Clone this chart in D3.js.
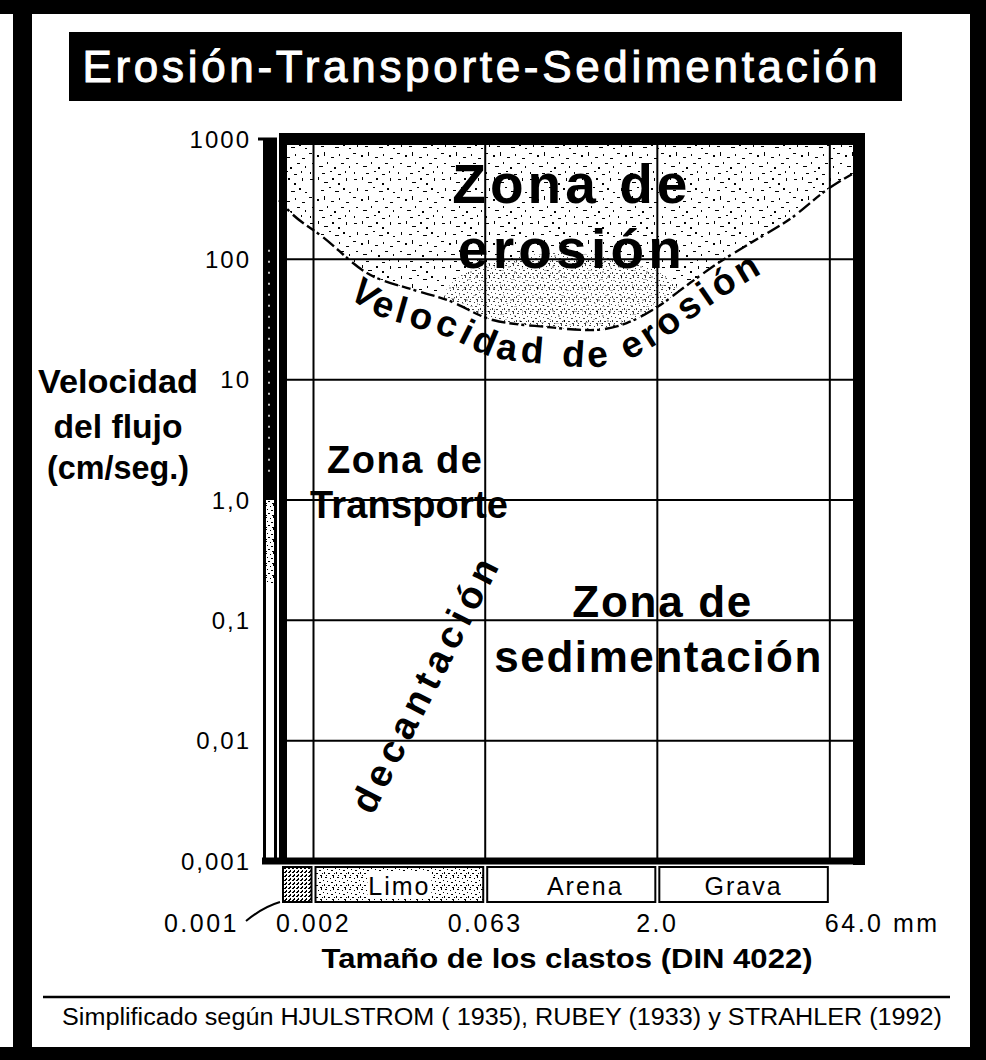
<!DOCTYPE html>
<html>
<head>
<meta charset="utf-8">
<script src="https://cdn.jsdelivr.net/npm/d3@7"></script>
<style>
  body { margin: 0; background: #fff; }
  svg { display: block; }
  text { font-family: "Liberation Sans", Arial, sans-serif; }
</style>
</head>
<body>
<svg id="chart" width="986" height="1060"></svg>
<script>
// ---- data -------------------------------------------------------------
// grain-size class boundaries (mm, DIN 4022)
const sizeTicks = [0.001, 0.002, 0.063, 2.0, 64.0];
const sizeTickLabels = ["0.001", "0.002", "0.063", "2.0", "64.0 mm"];
const sizeMax = 115;

// flow velocity decades (cm/s)
const velTicks = [1000, 100, 10, 1, 0.1, 0.01, 0.001];
const velTickLabels = ["1000", "100", "10", "1,0", "0,1", "0,01", "0,001"];

// grain classes shown under the plot
const classNames = ["", "Limo", "Arena", "Grava"];
const classLo = [0.001, 0.002, 0.063, 2.0];
const classHi = [0.002, 0.063, 2.0, 64.0];

// erosion velocity curve (grain size mm, velocity cm/s)
const erosionSize = [0.001, 0.00125, 0.00242, 0.00585, 0.0147, 0.0292, 0.0735, 0.218, 0.52, 1.08, 1.98, 3.85, 7.0, 12.1, 30.4, 60, 115];
const erosionVel  = [310, 247, 153, 77, 56, 46, 31.3, 27.4, 25.8, 29.5, 40, 63.5, 95, 131, 225, 377, 551];

// zone labels anchored in data units (size mm, velocity cm/s)
const zoneText = ["Zona de", "erosión", "Zona de", "Transporte", "Zona de", "sedimentación"];
const zoneSize = [0.345, 0.345, 0.01244, 0.0136, 2.19, 2.02];
const zoneVel  = [294, 84.7, 1.675, 0.707, 0.1064, 0.0371];

const settlingText = "decantación";
const settlingAnchor = [0.0191, 0.0284];

const curveText = "Velocidad de erosión";
const title = "Erosión-Transporte-Sedimentación";
const yTitle = ["Velocidad", "del flujo", "(cm/seg.)"];
const xTitle = "Tamaño de los clastos (DIN 4022)";
const source = "Simplificado según HJULSTROM ( 1935),  RUBEY (1933) y STRAHLER (1992)";

// ---- setup ------------------------------------------------------------
const svg = d3.select("#chart");
const defs = svg.append("defs");

const x = d3.scaleLog().domain([0.001, sizeMax]).range([279, 859]);
const y = d3.scaleLog().domain([0.001, 1000]).range([861, 139]);

function fit(t, w, squeeze) {
  t.attr("textLength", w).attr("lengthAdjust", squeeze ? "spacingAndGlyphs" : "spacing");
  return t;
}

// stipple textures
function addPattern(id, size, marks) {
  const p = defs.append("pattern").attr("id", id)
    .attr("patternUnits", "userSpaceOnUse").attr("width", size).attr("height", size);
  p.append("rect").attr("width", size).attr("height", size).attr("fill", "#fff");
  p.selectAll("rect.m").data(marks).join("rect").attr("class", "m")
    .attr("x", d => d[0]).attr("y", d => d[1])
    .attr("width", d => d[2]).attr("height", d => d[3]).attr("fill", "#000");
}
addPattern("stipple", 44, [
  [2,3,3,1],[10,1,1,3],[16,6,4,1],[24,2,2,2],[30,7,2,2],[38,2,1,3],
  [5,12,1,3],[13,14,3,1],[21,11,2,1],[27,15,4,1],[35,12,2,2],[41,16,2,1],
  [1,21,3,1],[9,23,2,2],[16,20,1,4],[23,25,3,1],[31,22,1,2],[38,26,3,1],
  [4,31,2,1],[11,34,4,1],[19,30,1,2],[26,35,2,2],[33,31,3,1],[41,34,1,2],
  [2,40,1,2],[14,41,3,1],[22,39,2,1],[30,42,3,1],[37,39,1,2]
]);
addPattern("stippleDense", 12, [
  [1,1,2,1],[6,2,1,1],[9,0,1,2],[3,5,1,1],[7,6,2,1],[0,8,1,2],
  [4,9,2,1],[10,9,1,1],[2,11,1,1],[8,11,2,1],[11,4,1,1]
]);
addPattern("clay", 4, [[0,0,2,1],[2,2,1,2],[1,3,1,1]]);

// ---- outer frame and title -------------------------------------------
svg.append("rect").attr("x", 0).attr("y", 0).attr("width", 986).attr("height", 14).attr("fill", "#000");
svg.append("rect").attr("x", 13).attr("y", 0).attr("width", 19).attr("height", 1060).attr("fill", "#000");
svg.append("rect").attr("x", 970).attr("y", 0).attr("width", 16).attr("height", 1060).attr("fill", "#000");
svg.append("rect").attr("x", 0).attr("y", 1047).attr("width", 986).attr("height", 13).attr("fill", "#000");

svg.append("rect").attr("x", 69).attr("y", 32).attr("width", 833).attr("height", 69).attr("fill", "#000");
fit(svg.append("text").attr("x", 480).attr("y", 82).attr("text-anchor", "middle")
  .attr("font-size", 44).attr("fill", "#fff").attr("stroke", "#fff").attr("stroke-width", 1)
  .text(title), 795);

// ---- erosion zone ----------------------------------------------------
const erosion = erosionSize.map((s, i) => [s, erosionVel[i]]);
const area = d3.area().x(d => x(d[0])).y0(y(1000)).y1(d => y(d[1])).curve(d3.curveMonotoneX);
const edge = d3.line().x(d => x(d[0])).y(d => y(d[1])).curve(d3.curveMonotoneX);

defs.append("clipPath").attr("id", "erosionClip").append("path").attr("d", area(erosion));
svg.append("path").attr("d", area(erosion)).attr("fill", "url(#stipple)");
// denser shading just above the curve minimum
svg.append("ellipse").attr("clip-path", "url(#erosionClip)")
  .attr("cx", x(0.3)).attr("cy", y(45)).attr("rx", 120).attr("ry", 48)
  .attr("fill", "url(#stippleDense)").attr("opacity", 0.75);
svg.append("path").attr("d", edge(erosion)).attr("fill", "none")
  .attr("stroke", "#000").attr("stroke-width", 2.4).attr("stroke-dasharray", "9 3 3 5 14 4");

// ---- grid --------------------------------------------------------------
svg.append("g").selectAll("line").data(sizeTicks.slice(1)).join("line")
  .attr("x1", d => x(d)).attr("x2", d => x(d)).attr("y1", y(1000)).attr("y2", y(0.001))
  .attr("stroke", "#000").attr("stroke-width", 2);
svg.append("g").selectAll("line").data(velTicks.slice(1, -1)).join("line")
  .attr("x1", x(0.001)).attr("x2", x(sizeMax)).attr("y1", d => y(d)).attr("y2", d => y(d))
  .attr("stroke", "#000").attr("stroke-width", 2);

// ---- velocity bar on the left ------------------------------------------
const barL = x(0.001) - 16, barR = x(0.001) - 2;
svg.append("rect").attr("x", barL).attr("y", y(1000)).attr("width", barR - barL).attr("height", y(1) - y(1000)).attr("fill", "#000");
svg.append("rect").attr("x", barL).attr("y", y(1)).attr("width", barR - barL).attr("height", y(0.2) - y(1)).attr("fill", "url(#stippleDense)");
svg.append("line").attr("x1", barL + 6).attr("x2", barL + 6).attr("y1", y(120)).attr("y2", y(1.5))
  .attr("stroke", "#fff").attr("stroke-width", 1.5).attr("stroke-dasharray", "2 9");
svg.append("rect").attr("x", barL + 1.5).attr("y", y(1000)).attr("width", barR - barL - 3).attr("height", y(0.001) - y(1000))
  .attr("fill", "none").attr("stroke", "#000").attr("stroke-width", 3);

// ---- plot frame --------------------------------------------------------
const fx0 = x(0.001) + 4, fx1 = x(sizeMax), fy0 = y(1000), fy1 = y(0.001);
svg.append("line").attr("x1", fx0 - 4).attr("x2", fx1 + 6).attr("y1", fy0).attr("y2", fy0).attr("stroke", "#000").attr("stroke-width", 12);
svg.append("line").attr("x1", fx1).attr("x2", fx1).attr("y1", fy0).attr("y2", fy1 + 4).attr("stroke", "#000").attr("stroke-width", 12);
svg.append("line").attr("x1", fx0 - 21).attr("x2", fx1 + 6).attr("y1", fy1).attr("y2", fy1).attr("stroke", "#000").attr("stroke-width", 7);
svg.append("line").attr("x1", fx0).attr("x2", fx0).attr("y1", fy0).attr("y2", fy1).attr("stroke", "#000").attr("stroke-width", 8);
// tick at the top of the scale
svg.append("line").attr("x1", barL - 5).attr("x2", barL).attr("y1", y(1000)).attr("y2", y(1000)).attr("stroke", "#000").attr("stroke-width", 3);

// ---- y tick labels and title -------------------------------------------
svg.append("g").selectAll("text").data(velTicks).join("text")
  .attr("x", barL - 12).attr("y", d => y(d)).attr("dy", "0.36em")
  .attr("text-anchor", "end").attr("font-size", 24).attr("letter-spacing", 2)
  .text((d, i) => velTickLabels[i]);

const yTitleLines = [393, 438, 479];
yTitle.forEach((t, i) => {
  fit(svg.append("text").attr("x", 118).attr("y", yTitleLines[i]).attr("text-anchor", "middle")
    .attr("font-size", 34).attr("font-weight", "bold").text(t), [160, 129, 142][i], true);
});

// ---- grain classes strip ----------------------------------------------
const strip = svg.append("g");
classNames.forEach((n, i) => {
  const x0 = x(classLo[i]) + (i === 0 ? 4 : 2), x1 = x(classHi[i]) - 2;
  strip.append("rect").attr("x", x0).attr("y", 867).attr("width", x1 - x0).attr("height", 35)
    .attr("fill", i === 0 ? "url(#clay)" : (i === 1 ? "url(#stippleDense)" : "#fff"))
    .attr("stroke", "#000").attr("stroke-width", 2);
  if (n) {
    const cx = Math.sqrt(classLo[i] * classHi[i]);
    if (i === 1) strip.append("rect").attr("x", x(cx) - 32).attr("y", 872).attr("width", 64).attr("height", 26).attr("fill", "#fff");
    strip.append("text").attr("x", x(cx) + (i === 2 ? 14 : 0)).attr("y", 895).attr("text-anchor", "middle")
      .attr("font-size", 25).attr("letter-spacing", 2).text(n);
  }
});

// ---- x tick labels and title ------------------------------------------
svg.append("g").selectAll("text").data(sizeTicks).join("text")
  .attr("x", (d, i) => i === 0 ? x(d) - 40 : (i === 4 ? x(d) - 5 : x(d)))
  .attr("y", 932)
  .attr("text-anchor", (d, i) => i === 0 ? "end" : (i === 4 ? "start" : "middle"))
  .attr("font-size", 25).attr("letter-spacing", 2.5)
  .text((d, i) => sizeTickLabels[i]);
svg.append("path")
  .attr("d", `M${x(0.001) - 33},921 Q${x(0.001) - 16},907 ${x(0.001) + 1},902`)
  .attr("fill", "none").attr("stroke", "#000").attr("stroke-width", 2);

fit(svg.append("text").attr("x", 567).attr("y", 968).attr("text-anchor", "middle")
  .attr("font-size", 28).attr("font-weight", "bold").text(xTitle), 491, true);

// ---- source note ------------------------------------------------------
svg.append("line").attr("x1", 43).attr("x2", 950).attr("y1", 997).attr("y2", 997).attr("stroke", "#000").attr("stroke-width", 2.5);
fit(svg.append("text").attr("x", 62).attr("y", 1025).attr("font-size", 23).text(source), 880, true);

// ---- zone labels -------------------------------------------------------
const zoneStyle = [
  { fs: 55, w: 235 }, { fs: 55, w: 224 },
  { fs: 38, w: 155 }, { fs: 38, w: 198 },
  { fs: 44, w: 179 }, { fs: 44, w: 327 }
];
zoneText.forEach((t, i) => {
  fit(svg.append("text").attr("x", x(zoneSize[i])).attr("y", y(zoneVel[i]))
    .attr("text-anchor", "middle").attr("font-size", zoneStyle[i].fs).attr("font-weight", "bold")
    .text(t), zoneStyle[i].w);
});

// settling label
fit(svg.append("text")
  .attr("transform", `translate(${x(settlingAnchor[0])},${y(settlingAnchor[1])}) rotate(-63)`)
  .attr("text-anchor", "middle").attr("dy", "0.3em")
  .attr("font-size", 38).attr("font-weight", "bold").text(settlingText), 280);

// text running under the erosion curve
const offsetY = 37;
const guide = defs.append("path").attr("id", "curveGuide").attr("d", edge(erosion));
const gNode = guide.node();
const total = gNode.getTotalLength();
function lengthAtX(px) {
  let lo = 0, hi = total;
  for (let k = 0; k < 40; k++) {
    const mid = (lo + hi) / 2;
    if (gNode.getPointAtLength(mid).x < px) lo = mid; else hi = mid;
  }
  return lo;
}
const sStart = lengthAtX(348), sEnd = lengthAtX(762);
const ct = svg.append("text").attr("font-size", 37).attr("font-weight", "bold")
  .attr("transform", `translate(0,${offsetY})`);
ct.append("textPath").attr("href", "#curveGuide").attr("startOffset", sStart).text(curveText);
// spread the letters along the stretch of curve
const natural = ct.node().getComputedTextLength();
ct.attr("letter-spacing", Math.max(0, (sEnd - sStart - natural) / (curveText.length - 1)));
</script>
</body>
</html>
